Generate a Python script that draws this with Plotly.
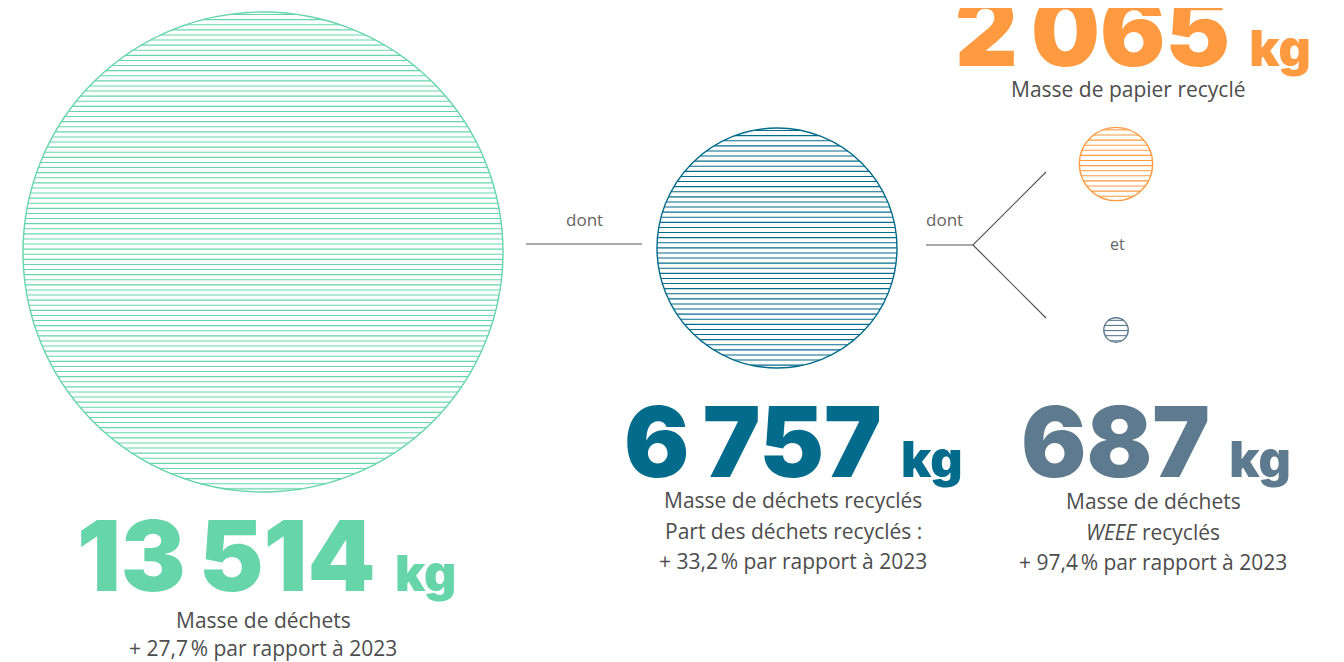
import numpy as np
import plotly.graph_objects as go

# ---- data ----
values = [13514, 6757, 2065, 687]
value_labels = ["13\u202f514", "6\u202f757", "2\u202f065", "687"]
unit = "kg"
descriptions = [
    ["Masse de déchets", "+ 27,7\u202f% par rapport à 2023"],
    ["Masse de déchets recyclés", "Part des déchets recyclés :", "+ 33,2\u202f% par rapport à 2023"],
    ["Masse de papier recyclé"],
    ["Masse de déchets", "<i>WEEE</i> recyclés", "+ 97,4\u202f% par rapport à 2023"],
]
connector_words = ["dont", "dont", "et"]

# ---- layout / style ----
W, H = 1344, 662
OFF = 8  # page body margin compensation
colors = ["#66D5AA", "#036B8C", "#FF9A40", "#5E7A8E"]
centers = [(263, 252), (777, 248), (1116, 164), (1116, 330)]
max_radius = 240.0
scale = max_radius / values[0]          # radius proportional to value
spacing = 5.1
text_grey = "#4d4d4d"
num_font = "Inter"
body_font = "Open Sans"

fig = go.Figure()

for v, (cx, cy), c in zip(values, centers, colors):
    r = v * scale
    xs, ys = [], []
    yy = cy - r + spacing / 2
    while yy < cy + r:
        dy = yy - cy
        hw = np.sqrt(max(r * r - dy * dy, 0))
        xs += [cx - hw, cx + hw, None]
        ys += [yy, yy, None]
        yy += spacing
    fig.add_trace(go.Scatter(x=xs, y=ys, mode="lines",
                             line=dict(color=c, width=1.1),
                             hoverinfo="skip", showlegend=False))
    fig.add_shape(type="circle", xref="x", yref="y",
                  x0=cx - r, x1=cx + r, y0=cy - r, y1=cy + r,
                  line=dict(color=c, width=1.4))

# connector lines
fig.add_trace(go.Scatter(x=[526, 642], y=[244, 244], mode="lines",
                         line=dict(color="#555555", width=1.2),
                         hoverinfo="skip", showlegend=False))
fig.add_trace(go.Scatter(x=[926, 973, 1046, None, 973, 1046],
                         y=[245, 245, 172, None, 245, 318], mode="lines",
                         line=dict(color="#555555", width=1.2),
                         hoverinfo="skip", showlegend=False))

# connector words
for word, (x, y) in zip(connector_words, [(584, 219), (944, 219), (1117, 244)]):
    fig.add_annotation(x=x, y=y, text=word, showarrow=False, xanchor="center",
                       yanchor="middle",
                       font=dict(family=body_font, size=17 if word == "dont" else 16,
                                 color="#666666"))

# big numbers
num_pos = [(266, 555), (793, 441), (1133, 30), (1156, 441)]
for lab, (x, y), c in zip(value_labels, num_pos, colors):
    fig.add_annotation(
        x=x, y=y, showarrow=False, xanchor="center", yanchor="middle",
        text=f"{lab} <span style='font-size:50px'>{unit}</span>",
        font=dict(family=num_font, size=97, color=c, weight=900))

# descriptions (one annotation per line)
desc_pos = [(263, 620, 27.5), (793, 500, 30.5), (1128, 89, 30), (1153, 501, 30.5)]
for lines, (x, y0, dy) in zip(descriptions, desc_pos):
    for i, ln in enumerate(lines):
        fig.add_annotation(x=x, y=y0 + i * dy, text=ln, showarrow=False,
                           xanchor="center", yanchor="middle", align="center",
                           font=dict(family=body_font, size=21, color=text_grey))

fig.update_xaxes(range=[OFF, W + OFF], visible=False, fixedrange=True)
fig.update_yaxes(range=[H + OFF, OFF], visible=False, fixedrange=True)
fig.update_layout(width=W, height=H, margin=dict(l=0, r=0, t=0, b=0),
                  plot_bgcolor="white", paper_bgcolor="white")

fig.write_html("out.html")
